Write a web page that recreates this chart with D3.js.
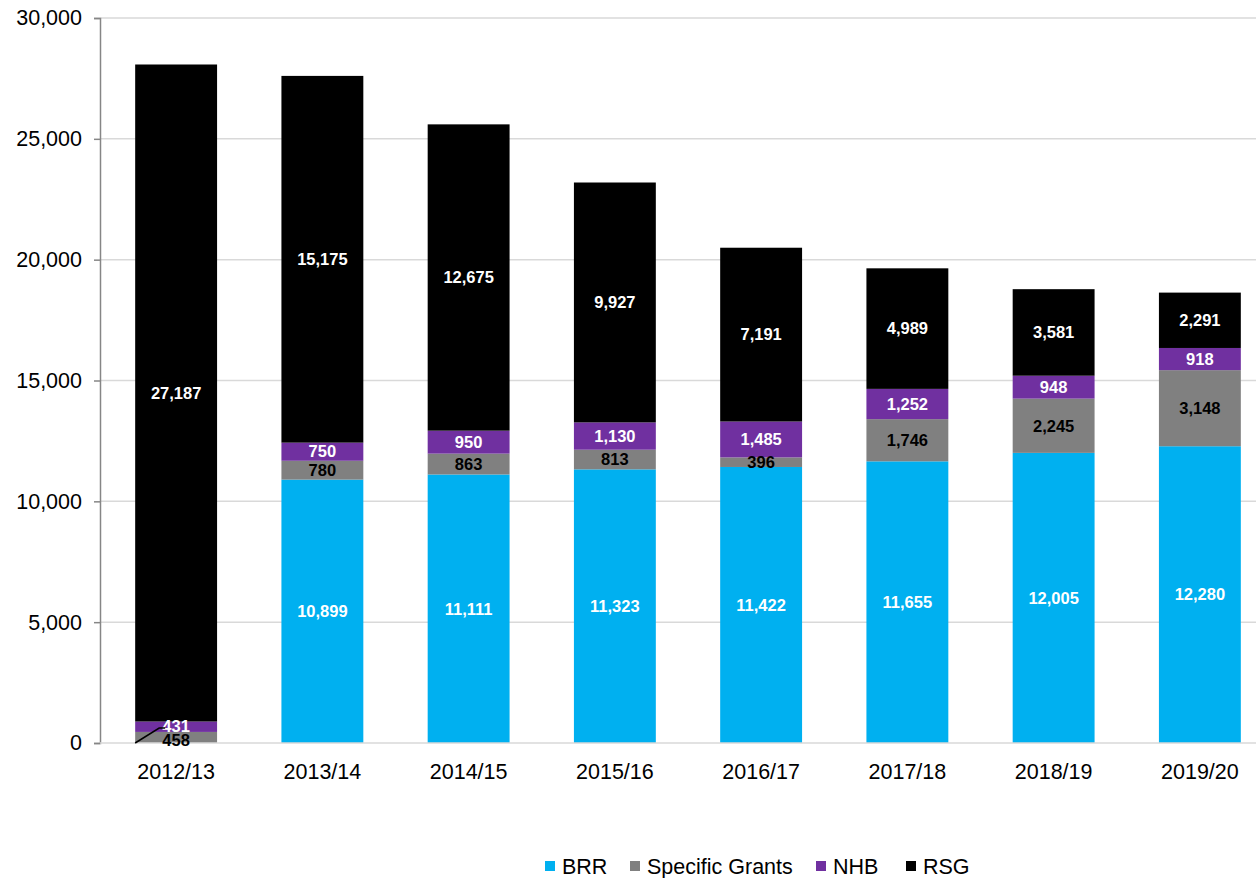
<!DOCTYPE html>
<html>
<head>
<meta charset="utf-8">
<script src="https://cdn.jsdelivr.net/npm/d3@7/dist/d3.min.js"></script>
<style>
  body { margin: 0; background: #fff; }
  text { font-family: "Liberation Sans", Arial, sans-serif; }
</style>
</head>
<body>
<div class="chart"></div>
<script>
// Data
var years = ["2012/13", "2013/14", "2014/15", "2015/16", "2016/17", "2017/18", "2018/19", "2019/20"];
var brr = [0, 10899, 11111, 11323, 11422, 11655, 12005, 12280];
var specificGrants = [458, 780, 863, 813, 396, 1746, 2245, 3148];
var nhb = [431, 750, 950, 1130, 1485, 1252, 948, 918];
var rsg = [27187, 15175, 12675, 9927, 7191, 4989, 3581, 2291];
var seriesNames = ["BRR", "Specific Grants", "NHB", "RSG"];
var seriesColors = ["#00b0f0", "#808080", "#7030a0", "#000000"];
var labelColors = ["#fff", "#000", "#fff", "#fff"];
var yTicks = [0, 5000, 10000, 15000, 20000, 25000, 30000];

var outerWidth = 1256, outerHeight = 878;

var svg = d3.select(".chart").append("svg")
  .attr("width", outerWidth)
  .attr("height", outerHeight);

var rows = years.map(function(y, i) {
  return { year: y, BRR: brr[i], "Specific Grants": specificGrants[i], NHB: nhb[i], RSG: rsg[i] };
});

var xScale = d3.scaleBand().domain(years).range([103, 1273]).paddingInner(0.44).paddingOuter(0.22);
var yScale = d3.scaleLinear().domain([0, 30000]).range([743, 18]);
var fmt = d3.format(",");

// gridlines
svg.append("g").selectAll("line").data(yTicks.filter(function(d) { return d > 0; }))
  .enter().append("line")
    .attr("x1", 100).attr("x2", outerWidth)
    .attr("y1", function(d) { return yScale(d); })
    .attr("y2", function(d) { return yScale(d); })
    .attr("stroke", "#d9d9d9").attr("stroke-width", 1.5);

// stacked bars
var stack = d3.stack().keys(seriesNames)(rows);

var layers = svg.append("g").selectAll("g").data(stack)
  .enter().append("g")
    .attr("fill", function(d, i) { return seriesColors[i]; });

layers.selectAll("rect").data(function(d) { return d; })
  .enter().append("rect")
    .attr("x", function(d) { return xScale(d.data.year); })
    .attr("y", function(d) { return yScale(d[1]); })
    .attr("width", xScale.bandwidth())
    .attr("height", function(d) { return yScale(d[0]) - yScale(d[1]); });

// axes
var yAxis = svg.append("g")
  .attr("transform", "translate(100,0)")
  .call(d3.axisLeft(yScale).tickValues(yTicks).tickFormat(fmt).tickSize(6).tickPadding(12));
yAxis.select(".domain").attr("stroke", "#868686").attr("stroke-width", 1.5);
yAxis.selectAll(".tick line").attr("stroke", "#868686").attr("stroke-width", 1.5);
yAxis.selectAll("text").attr("font-size", 21.5).attr("fill", "#000")
  .style("font-family", "'Liberation Sans', Arial, sans-serif");

var xAxis = svg.append("g")
  .attr("transform", "translate(0,743)")
  .call(d3.axisBottom(xScale).tickSize(0).tickPadding(21));
xAxis.select(".domain").attr("d", "M100,0H" + outerWidth).attr("stroke", "#d9d9d9").attr("stroke-width", 1.5);
xAxis.selectAll("text").attr("font-size", 21.5).attr("fill", "#000")
  .style("font-family", "'Liberation Sans', Arial, sans-serif");

// data labels
stack.forEach(function(layer, si) {
  svg.append("g").selectAll("text").data(layer.filter(function(d) { return d[1] - d[0] > 0; }))
    .enter().append("text")
      .attr("x", function(d) { return xScale(d.data.year) + xScale.bandwidth() / 2; })
      .attr("y", function(d) {
        var mid = yScale((d[0] + d[1]) / 2);
        if (d.data.year === "2012/13" && si === 1) mid += 3;
        return mid;
      })
      .attr("dy", "0.35em")
      .attr("text-anchor", "middle")
      .attr("font-size", 16.5)
      .attr("font-weight", "bold")
      .attr("fill", labelColors[si])
      .text(function(d) { return fmt(d[1] - d[0]); });
});

// leader line for the small 2012/13 label
var x0 = xScale(years[0]);
svg.append("path")
  .attr("d", "M" + x0 + "," + yScale(0) + "L" + (x0 + 24) + "," + (yScale(0) - 15) + "H" + (x0 + 30))
  .attr("fill", "none").attr("stroke", "#000").attr("stroke-width", 1.5);

// legend
var legendX = [545, 630, 816, 906];
var legend = svg.append("g").selectAll("g").data(seriesNames)
  .enter().append("g")
    .attr("transform", function(d, i) { return "translate(" + legendX[i] + ",866)"; });
legend.append("rect")
  .attr("x", 0).attr("y", -5).attr("width", 10).attr("height", 10)
  .attr("fill", function(d, i) { return seriesColors[i]; });
legend.append("text")
  .attr("x", 17).attr("dy", "0.35em")
  .attr("font-size", 21.5).attr("fill", "#000")
  .text(function(d) { return d; });
</script>
</body>
</html>
